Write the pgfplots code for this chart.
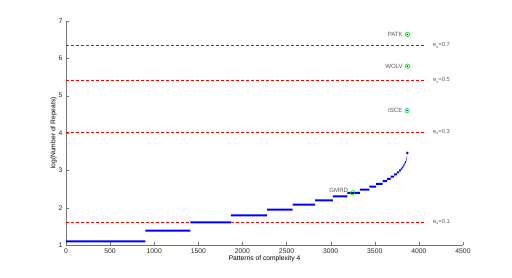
\documentclass[border=0pt]{standalone}
\usepackage{pgfplots}
\pgfplotsset{compat=1.18}
\usepackage{fontspec}
\setmainfont{Liberation Sans}
\newcommand{\es}[1]{e\raisebox{-0.5ex}{\fontsize{4}{4}\selectfont s}=#1}
\begin{document}
\begin{tikzpicture}
\useasboundingbox (-66pt,-33pt) rectangle (446pt,245pt);
\begin{axis}[
  scale only axis, width=397pt, height=224pt,
  xmin=0, xmax=4500, ymin=1, ymax=7,
  axis lines=left, axis line style={-, draw=black!55},
  tick style={draw=black!55}, tick align=inside,
  major tick length=3pt,
  xtick={0,500,...,4500}, ytick={1,...,7},
  scaled x ticks=false,
  xticklabel style={/pgf/number format/1000 sep={}},
  /pgf/number format/assume math mode=true,
  ticklabel style={font=\fontsize{6.8}{7}\selectfont, text=black!85},
  label style={font=\fontsize{6.7}{7}\selectfont},
  xlabel={Patterns of complexity 4},
  ylabel={log(Number of Repeats)},
  xlabel style={yshift=5pt},
  ylabel style={yshift=-5pt},
  clip=false,
  unbounded coords=jump,
]
% threshold lines
\addplot[red, dash pattern=on 3pt off 2pt, line width=0.6pt] coordinates {(0,6.35) (4070,6.35)};
\addplot[red, dash pattern=on 3pt off 2pt, line width=0.6pt] coordinates {(0,5.41) (4070,5.41)};
\addplot[red, dash pattern=on 3pt off 2pt, line width=0.6pt] coordinates {(0,4.03) (4070,4.03)};
\addplot[red, dash pattern=on 3pt off 2pt, line width=0.6pt] coordinates {(0,1.61) (4070,1.61)};
% steps
\addplot[blue, line width=2pt] coordinates {
(0,1.099) (900,1.099) (nan,nan)
(900,1.386) (1410,1.386) (nan,nan)
(1410,1.609) (1870,1.609) (nan,nan)
(1870,1.792) (2280,1.792) (nan,nan)
(2280,1.946) (2570,1.946) (nan,nan)
(2570,2.079) (2825,2.079) (nan,nan)
(2825,2.197) (3025,2.197) (nan,nan)
(3025,2.303) (3190,2.303) (nan,nan)
(3190,2.398) (3330,2.398) (nan,nan)
(3330,2.485) (3440,2.485) (nan,nan)
(3440,2.565) (3515,2.565) (nan,nan)
(3515,2.639) (3590,2.639) (nan,nan)
(3590,2.708) (3640,2.708) (nan,nan)
(3640,2.773) (3680,2.773) (nan,nan)
(3680,2.833) (3720,2.833) (nan,nan)
(3720,2.890) (3750,2.890) (nan,nan)
(3750,2.944) (3775,2.944) (nan,nan)
(3775,2.996) (3795,2.996) (nan,nan)
(3795,3.045) (3812,3.045) (nan,nan)
(3812,3.091) (3825,3.091) (nan,nan)
(3825,3.135) (3836,3.135) (nan,nan)
(3836,3.178) (3845,3.178) (nan,nan)
(3845,3.219) (3852,3.219) (nan,nan)
(3852,3.258) (3857,3.258) (nan,nan)
(3857,3.296) (3861,3.296) (nan,nan)
(3861,3.332) (3864,3.332) (nan,nan)
(3864,3.367) (3866,3.367) (nan,nan)
(3866,3.401) (3868,3.401) (nan,nan)
(3868,3.434) (3870,3.497)
};
% labelled points
\addplot[only marks, mark=o, mark size=2.2pt, mark options={draw=green!90!black, line width=0.6pt},
  nodes near coords, point meta=explicit symbolic,
  every node near coord/.style={anchor=east, font=\fontsize{6.1}{6.5}\selectfont, text=black!65, xshift=-1pt}]
  coordinates {(3870,6.64)[PATK] (3870,5.79)[WOLV] (3865,4.60)[ISCE]};
\addplot[only marks, mark=o, mark size=2.2pt, mark options={draw=green!90!black, line width=0.6pt},
  nodes near coords, point meta=explicit symbolic,
  every node near coord/.style={anchor=south east, font=\fontsize{6.1}{6.5}\selectfont, text=black!65, xshift=-1pt, yshift=-3pt}]
  coordinates {(3250,2.40)[GMRD]};
\addplot[only marks, mark=*, mark size=0.5pt, blue] coordinates {(3870,6.64) (3870,5.79) (3865,4.60)};
% threshold labels
\addplot[draw=none, nodes near coords, point meta=explicit symbolic,
  every node near coord/.style={anchor=west, font=\fontsize{5.8}{6}\selectfont, text=black!65, inner sep=0pt}]
  coordinates {(4160,6.35)[\es{0.7}] (4160,5.41)[\es{0.5}] (4160,4.03)[\es{0.3}] (4160,1.61)[\es{0.1}]};
\end{axis}
\end{tikzpicture}
\end{document}
